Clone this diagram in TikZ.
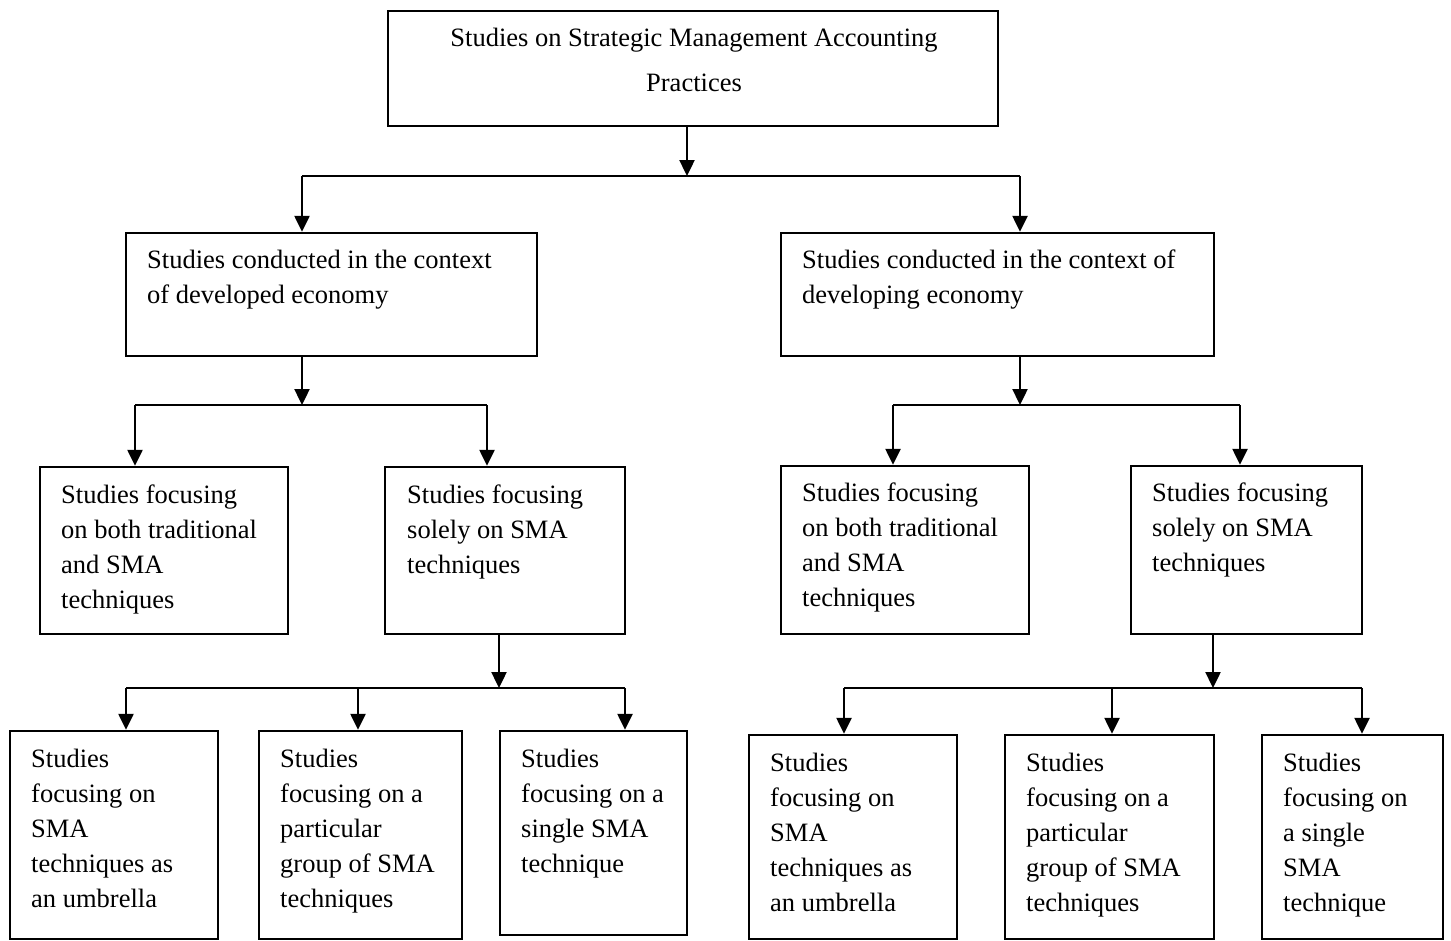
\documentclass[tikz,border=0pt]{standalone}
\usepackage{fontspec}
\setmainfont{Liberation Serif}
\usetikzlibrary{arrows.meta,fit}
\begin{document}
\begin{tikzpicture}[x=1pt,y=-1pt,
  box/.style={draw, line width=2.4pt, inner sep=0pt},
  txt/.style={inner sep=0pt, align=left, anchor=north west, font=\fontsize{26.5}{35}\selectfont},
  ttl/.style={inner sep=0pt, align=center, anchor=north, font=\fontsize{26.5}{45}\selectfont},
  arr/.style={line width=2.4pt, -{Triangle[length=16pt,width=15pt]}},
  link/.style={line width=2.4pt}]
\useasboundingbox (0,0) rectangle (1451,940);

% boxes
\node[box, fit={(388,11) (998,126)}] (top) {};
\node[box, fit={(126,233) (537,356)}] (L1) {};
\node[box, fit={(781,233) (1214,356)}] (R1) {};
\node[box, fit={(40,467) (288,634)}] (L2a) {};
\node[box, fit={(385,467) (625,634)}] (L2b) {};
\node[box, fit={(781,466) (1029,634)}] (R2a) {};
\node[box, fit={(1131,466) (1362,634)}] (R2b) {};
\node[box, fit={(10,731) (218,939)}] (L3a) {};
\node[box, fit={(259,731) (462,939)}] (L3b) {};
\node[box, fit={(500,731) (687,935)}] (L3c) {};
\node[box, fit={(749,735) (957,939)}] (R3a) {};
\node[box, fit={(1005,735) (1214,939)}] (R3b) {};
\node[box, fit={(1262,735) (1443,939)}] (R3c) {};

% texts (first baseline = node top + strut height)
\node[ttl] (top-t) at (694,15) {\strut Studies on Strategic Management Accounting\\Practices};
\node[txt] (L1-t) at (147,244) {\strut Studies conducted in the context\\of developed economy};
\node[txt] (R1-t) at (802,244) {\strut Studies conducted in the context of\\developing economy};
\node[txt] (L2a-t) at (61,479) {\strut Studies focusing\\on both traditional\\and SMA\\techniques};
\node[txt] (L2b-t) at (407,479) {\strut Studies focusing\\solely on SMA\\techniques};
\node[txt] (R2a-t) at (802,477) {\strut Studies focusing\\on both traditional\\and SMA\\techniques};
\node[txt] (R2b-t) at (1152,477) {\strut Studies focusing\\solely on SMA\\techniques};
\node[txt] (L3a-t) at (31,743) {\strut Studies\\focusing on\\SMA\\techniques as\\an umbrella};
\node[txt] (L3b-t) at (280,743) {\strut Studies\\focusing on a\\particular\\group of SMA\\techniques};
\node[txt] (L3c-t) at (521,743) {\strut Studies\\focusing on a\\single SMA\\technique};
\node[txt] (R3a-t) at (770,747) {\strut Studies\\focusing on\\SMA\\techniques as\\an umbrella};
\node[txt] (R3b-t) at (1026,747) {\strut Studies\\focusing on a\\particular\\group of SMA\\techniques};
\node[txt] (R3c-t) at (1283,747) {\strut Studies\\focusing on\\a single\\SMA\\technique};

% branch points
\coordinate (j0) at (687,176);  \coordinate (h0l) at (302,176);  \coordinate (h0r) at (1020,176);
\coordinate (j1) at (302,405);  \coordinate (h1l) at (135,405);  \coordinate (h1r) at (487,405);
\coordinate (j2) at (1020,405); \coordinate (h2l) at (893,405);  \coordinate (h2r) at (1240,405);
\coordinate (j3) at (499,688);  \coordinate (h3l) at (126,688);  \coordinate (h3m) at (358,688);  \coordinate (h3r) at (625,688);
\coordinate (j4) at (1213,688); \coordinate (h4l) at (844,688);  \coordinate (h4m) at (1112,688); \coordinate (h4r) at (1362,688);

% level 0 -> 1
\draw[arr] (top.south -| j0) -- (j0);
\draw[link] (h0l) -- (h0r);
\draw[arr] (h0l) -- (h0l |- L1.north);
\draw[arr] (h0r) -- (h0r |- R1.north);

% level 1 -> 2 (left)
\draw[arr] (L1.south -| j1) -- (j1);
\draw[link] (h1l) -- (h1r);
\draw[arr] (h1l) -- (h1l |- L2a.north);
\draw[arr] (h1r) -- (h1r |- L2b.north);

% level 1 -> 2 (right)
\draw[arr] (R1.south -| j2) -- (j2);
\draw[link] (h2l) -- (h2r);
\draw[arr] (h2l) -- (h2l |- R2a.north);
\draw[arr] (h2r) -- (h2r |- R2b.north);

% level 2 -> 3 (left)
\draw[arr] (L2b.south -| j3) -- (j3);
\draw[link] (h3l) -- (h3r);
\draw[arr] (h3l) -- (h3l |- L3a.north);
\draw[arr] (h3m) -- (h3m |- L3b.north);
\draw[arr] (h3r) -- (h3r |- L3c.north);

% level 2 -> 3 (right)
\draw[arr] (R2b.south -| j4) -- (j4);
\draw[link] (h4l) -- (h4r);
\draw[arr] (h4l) -- (h4l |- R3a.north);
\draw[arr] (h4m) -- (h4m |- R3b.north);
\draw[arr] (h4r) -- (h4r |- R3c.north);
\end{tikzpicture}
\end{document}
